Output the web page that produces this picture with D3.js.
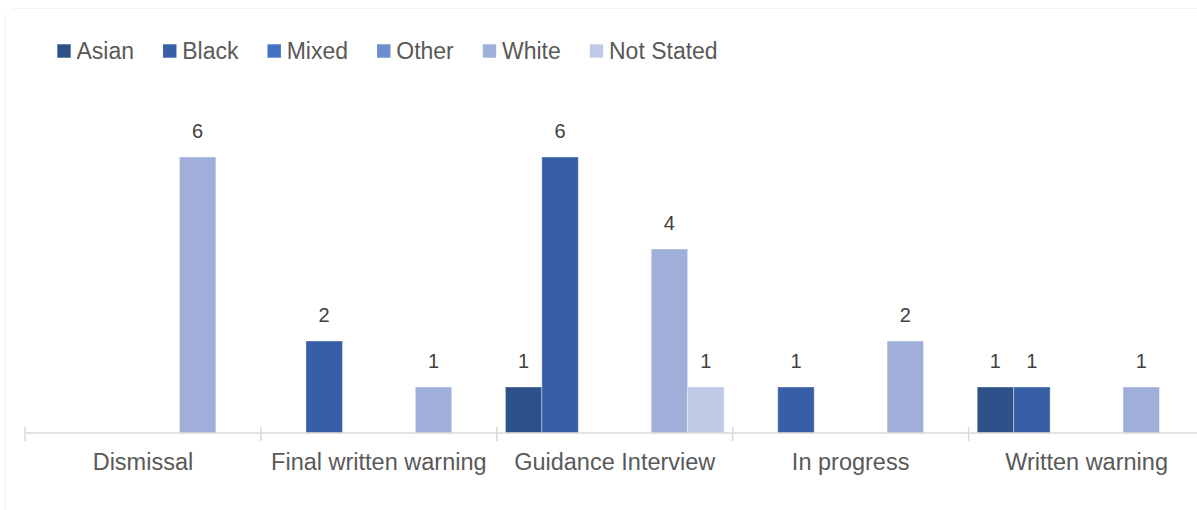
<!DOCTYPE html>
<html>
<head>
<meta charset="utf-8">
<script src="https://cdn.jsdelivr.net/npm/d3@7"></script>
<style>
  html, body { margin: 0; padding: 0; background: #fff; }
  svg { display: block; font-family: Arial, "Liberation Sans", sans-serif; }
</style>
</head>
<body>
<svg id="chart"></svg>
<script>
const categories = ['Dismissal', 'Final written warning', 'Guidance Interview', 'In progress', 'Written warning'];
const seriesNames = ['Asian', 'Black', 'Mixed', 'Other', 'White', 'Not Stated'];
const asian = [null, null, 1, null, 1];
const black = [null, 2, 6, 1, 1];
const mixed = [null, null, null, null, null];
const other = [null, null, null, null, null];
const white = [6, 1, 4, 2, 1];
const notStated = [null, null, 1, null, null];
const colors = ['#2E5189', '#375FA5', '#4472C4', '#6E8DD0', '#A0AFDA', '#C0CAE6'];

const seriesValues = [asian, black, mixed, other, white, notStated];

const W = 1197, H = 510;
const svg = d3.select('#chart').attr('width', W).attr('height', H);

// faint chart border
svg.append('line').attr('x1', 12).attr('x2', W).attr('y1', 8.5).attr('y2', 8.5)
  .attr('stroke', '#f3f3f3').attr('stroke-width', 1);
svg.append('line').attr('x1', 5.5).attr('x2', 5.5).attr('y1', 13).attr('y2', H)
  .attr('stroke', '#f3f3f3').attr('stroke-width', 1);

const bandW = 235.9;
const x0 = d3.scaleBand()
  .domain(categories)
  .range([25, 25 + bandW * categories.length])
  .padding(0);

const x1 = d3.scaleBand()
  .domain(seriesNames)
  .range([0, x0.bandwidth()])
  .paddingInner(0)
  .paddingOuter(0.236);

const y = d3.scaleLinear().domain([0, 6]).range([433, 157]);

const color = d3.scaleOrdinal().domain(seriesNames).range(colors);

// 数据展开
const points = [];
seriesNames.forEach((s, si) => {
  categories.forEach((c, ci) => {
    const v = seriesValues[si][ci];
    if (v != null) points.push({ series: s, cat: c, value: v });
  });
});

// 柱子
svg.append('g')
  .selectAll('rect')
  .data(points)
  .enter()
  .append('rect')
  .attr('x', d => x0(d.cat) + x1(d.series))
  .attr('y', d => y(d.value))
  .attr('width', x1.bandwidth())
  .attr('height', d => y(0) - y(d.value))
  .attr('fill', d => color(d.series))
  .attr('stroke', 'rgba(255,255,255,0.45)')
  .attr('stroke-width', 0.8);

// 数据标签
svg.append('g')
  .selectAll('text')
  .data(points)
  .enter()
  .append('text')
  .attr('x', d => x0(d.cat) + x1(d.series) + x1.bandwidth() / 2)
  .attr('y', d => y(d.value) - 19)
  .attr('text-anchor', 'middle')
  .style('font-size', '20px')
  .style('fill', '#404040')
  .text(d => d.value);

// X 轴
const axis = svg.append('g').attr('transform', `translate(0,${y(0)})`);
axis.append('line')
  .attr('x1', x0.range()[0]).attr('x2', x0.range()[1])
  .attr('stroke', '#d9d9d9').attr('stroke-width', 1.5);
const bounds = categories.map(c => x0(c)).concat([x0.range()[1]]);
axis.selectAll('.tick')
  .data(bounds)
  .enter()
  .append('line')
  .attr('x1', d => d).attr('x2', d => d)
  .attr('y1', -6).attr('y2', 8)
  .attr('stroke', '#d9d9d9').attr('stroke-width', 1.5);
axis.selectAll('.lbl')
  .data(categories)
  .enter()
  .append('text')
  .attr('x', d => x0(d) + x0.bandwidth() / 2)
  .attr('y', 37)
  .attr('text-anchor', 'middle')
  .style('font-size', '23.5px')
  .style('fill', '#595959')
  .text(d => d);

// 图例
const legend = svg.append('g');
let lx = 57.3;
seriesNames.forEach((s) => {
  legend.append('rect')
    .attr('x', lx).attr('y', 44.3)
    .attr('width', 13.4).attr('height', 13.4)
    .attr('fill', color(s));
  const t = legend.append('text')
    .attr('x', lx + 19.2)
    .attr('y', 59)
    .style('font-size', '23px')
    .style('fill', '#595959')
    .text(s);
  lx = lx + 19.2 + t.node().getComputedTextLength() + 29;
});
</script>
</body>
</html>
